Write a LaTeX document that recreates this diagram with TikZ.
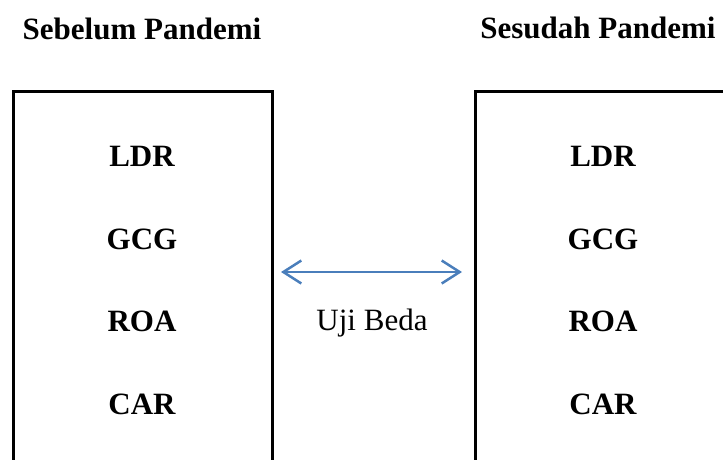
\documentclass[tikz,border=0pt]{standalone}
\usepackage{fontspec}
\setmainfont{Liberation Serif}
\usetikzlibrary{arrows.meta}
\definecolor{arrowblue}{RGB}{74,126,187}
\begin{document}
\begin{tikzpicture}[x=1pt,y=-1pt]
	\fontsize{31}{36}\selectfont
	\tikzset{var/.style={font=\bfseries, anchor=base},
		panel/.style={draw, line width=2.5pt, minimum width=259pt, minimum height=430pt, anchor=north west, inner sep=0pt}}
	\useasboundingbox (0,0) rectangle (723,459);
	\clip (0,0) rectangle (723,459);
	
	\node[var] (titleA) at (142,39) {Sebelum Pandemi};
	\node[var] (titleB) at (598,38) {Sesudah Pandemi};
	\node[panel] (before) at (12,90) {};
	\node[panel] (after) at (474,90) {};
	
	\foreach \v/\y in {LDR/166, GCG/249, ROA/331, CAR/414}{
		\node[var] (A\v) at (142,\y) {\v};
		\node[var] (B\v) at (603,\y) {\v};
	}
	
	\coordinate (testL) at (281,272);
	\coordinate (testR) at (462,272);
	\draw[{Straight Barb[length=18pt,width=23pt]}-{Straight Barb[length=18pt,width=23pt]}, arrowblue, line width=2.5pt] (testL)--(testR);
	\node[anchor=base] (test) at (372,330) {Uji Beda};
\end{tikzpicture}
\end{document}
